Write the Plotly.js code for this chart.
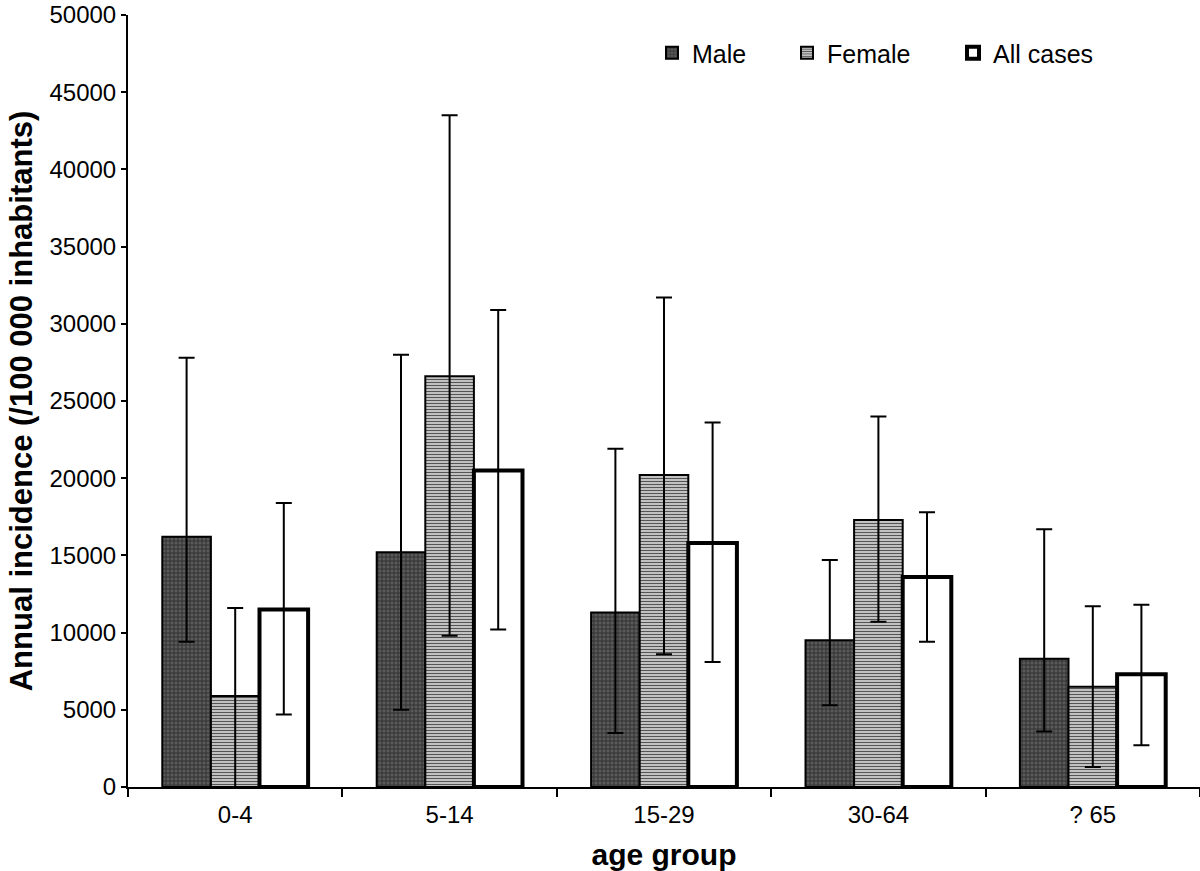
<!DOCTYPE html>
<html>
<head>
<meta charset="utf-8">
<script src="https://cdn.plot.ly/plotly-3.0.1.min.js"></script>
<style>html,body{margin:0;padding:0;background:#fff;}#chart{width:1200px;height:871px;}</style>
</head>
<body>
<div id="chart"></div>
<script>
// Categories (age groups)
var ageGroups = ["0-4", "5-14", "15-29", "30-64", "? 65"];

// Annual incidence (/100 000 inhabitants)
var maleValues   = [16200, 15200, 11300,  9500, 8300];
var maleUpper    = [27800, 28000, 21900, 14700, 16700];
var maleLower    = [ 9400,  5000,  3500,  5300, 3600];

var femaleValues = [ 5900, 26600, 20200, 17300, 6500];
var femaleUpper  = [11600, 43500, 31700, 24000, 11700];
var femaleLower  = [    0,  9800,  8600, 10700, 1300];

var allValues    = [11500, 20500, 15800, 13600, 7300];
var allUpper     = [18400, 30900, 23600, 17800, 11800];
var allLower     = [ 4700, 10200,  8100,  9400, 2700];

var yTickVals = [0, 5000, 10000, 15000, 20000, 25000, 30000, 35000, 40000, 45000, 50000];

function plus(v, u) { return u.map(function (x, i) { return x - v[i]; }); }
function minus(v, l) { return l.map(function (x, i) { return v[i] - x; }); }

function errBars(v, u, l) {
  return {type: "data", symmetric: false, array: plus(v, u), arrayminus: minus(v, l),
          color: "#000", thickness: 2, width: 8};
}

var traces = [
  {type: "bar", name: "Male", x: ageGroups, y: maleValues, legend: "legend",
   marker: {color: "#4a4a4a", line: {color: "#000", width: 2},
            pattern: {shape: "+", bgcolor: "#5a5a5a", fgcolor: "#2a2a2a", size: 4, solidity: 0.35}},
   error_y: errBars(maleValues, maleUpper, maleLower)},
  {type: "bar", name: "Female", x: ageGroups, y: femaleValues, legend: "legend2",
   marker: {color: "#b0b0b0", line: {color: "#000", width: 2},
            pattern: {shape: "-", bgcolor: "#d8d8d8", fgcolor: "#555555", size: 3, solidity: 0.45}},
   error_y: errBars(femaleValues, femaleUpper, femaleLower)},
  {type: "bar", name: "All cases", x: ageGroups, y: allValues, legend: "legend3",
   marker: {color: "#ffffff", line: {color: "#000", width: 4}},
   error_y: errBars(allValues, allUpper, allLower)}
];

var L = 128, R = 0, T = 15, B = 84, W = 1200, H = 871;
function px2x(p) { return (p - L) / (W - L - R); }
function px2y(p) { return (H - B - p) / (H - T - B); }

var FAM = "Liberation Sans, Arial, sans-serif";
var legFont = {family: FAM, size: 25, color: "#000"};
function leg(pxLeft) {
  return {x: px2x(pxLeft), y: px2y(53), xanchor: "left", yanchor: "middle",
          orientation: "h", bgcolor: "rgba(0,0,0,0)", borderwidth: 0, font: legFont};
}

var layout = {
  width: W, height: H,
  margin: {l: L, r: R, t: T, b: B, pad: 0},
  paper_bgcolor: "#fff", plot_bgcolor: "#fff",
  font: {family: FAM, color: "#000"},
  barmode: "group", bargap: 0.32, bargroupgap: 0,
  showlegend: true,
  legend: leg(652), legend2: leg(787), legend3: leg(953),
  xaxis: {
    type: "category", showgrid: false, zeroline: false,
    showline: true, linecolor: "#000", linewidth: 2,
    ticks: "outside", tickson: "boundaries", ticklen: 8, tickwidth: 2, tickcolor: "#000",
    ticklabelstandoff: 5,
    tickfont: {size: 24, family: FAM},
    title: {text: "age group", font: {size: 30, family: FAM, weight: "bold"}, standoff: 22}
  },
  yaxis: {
    range: [0, 50000], tickvals: yTickVals, ticktext: yTickVals.map(String),
    showgrid: false, zeroline: false,
    showline: true, linecolor: "#000", linewidth: 2,
    ticks: "outside", ticklen: 5, tickwidth: 2, tickcolor: "#000",
    tickfont: {size: 24, family: FAM},
    title: {text: "Annual incidence (/100 000 inhabitants)", font: {size: 31, family: FAM, weight: "bold"}, standoff: 8}
  }
};

Plotly.newPlot("chart", traces, layout, {displayModeBar: false, staticPlot: true});
</script>
</body>
</html>
